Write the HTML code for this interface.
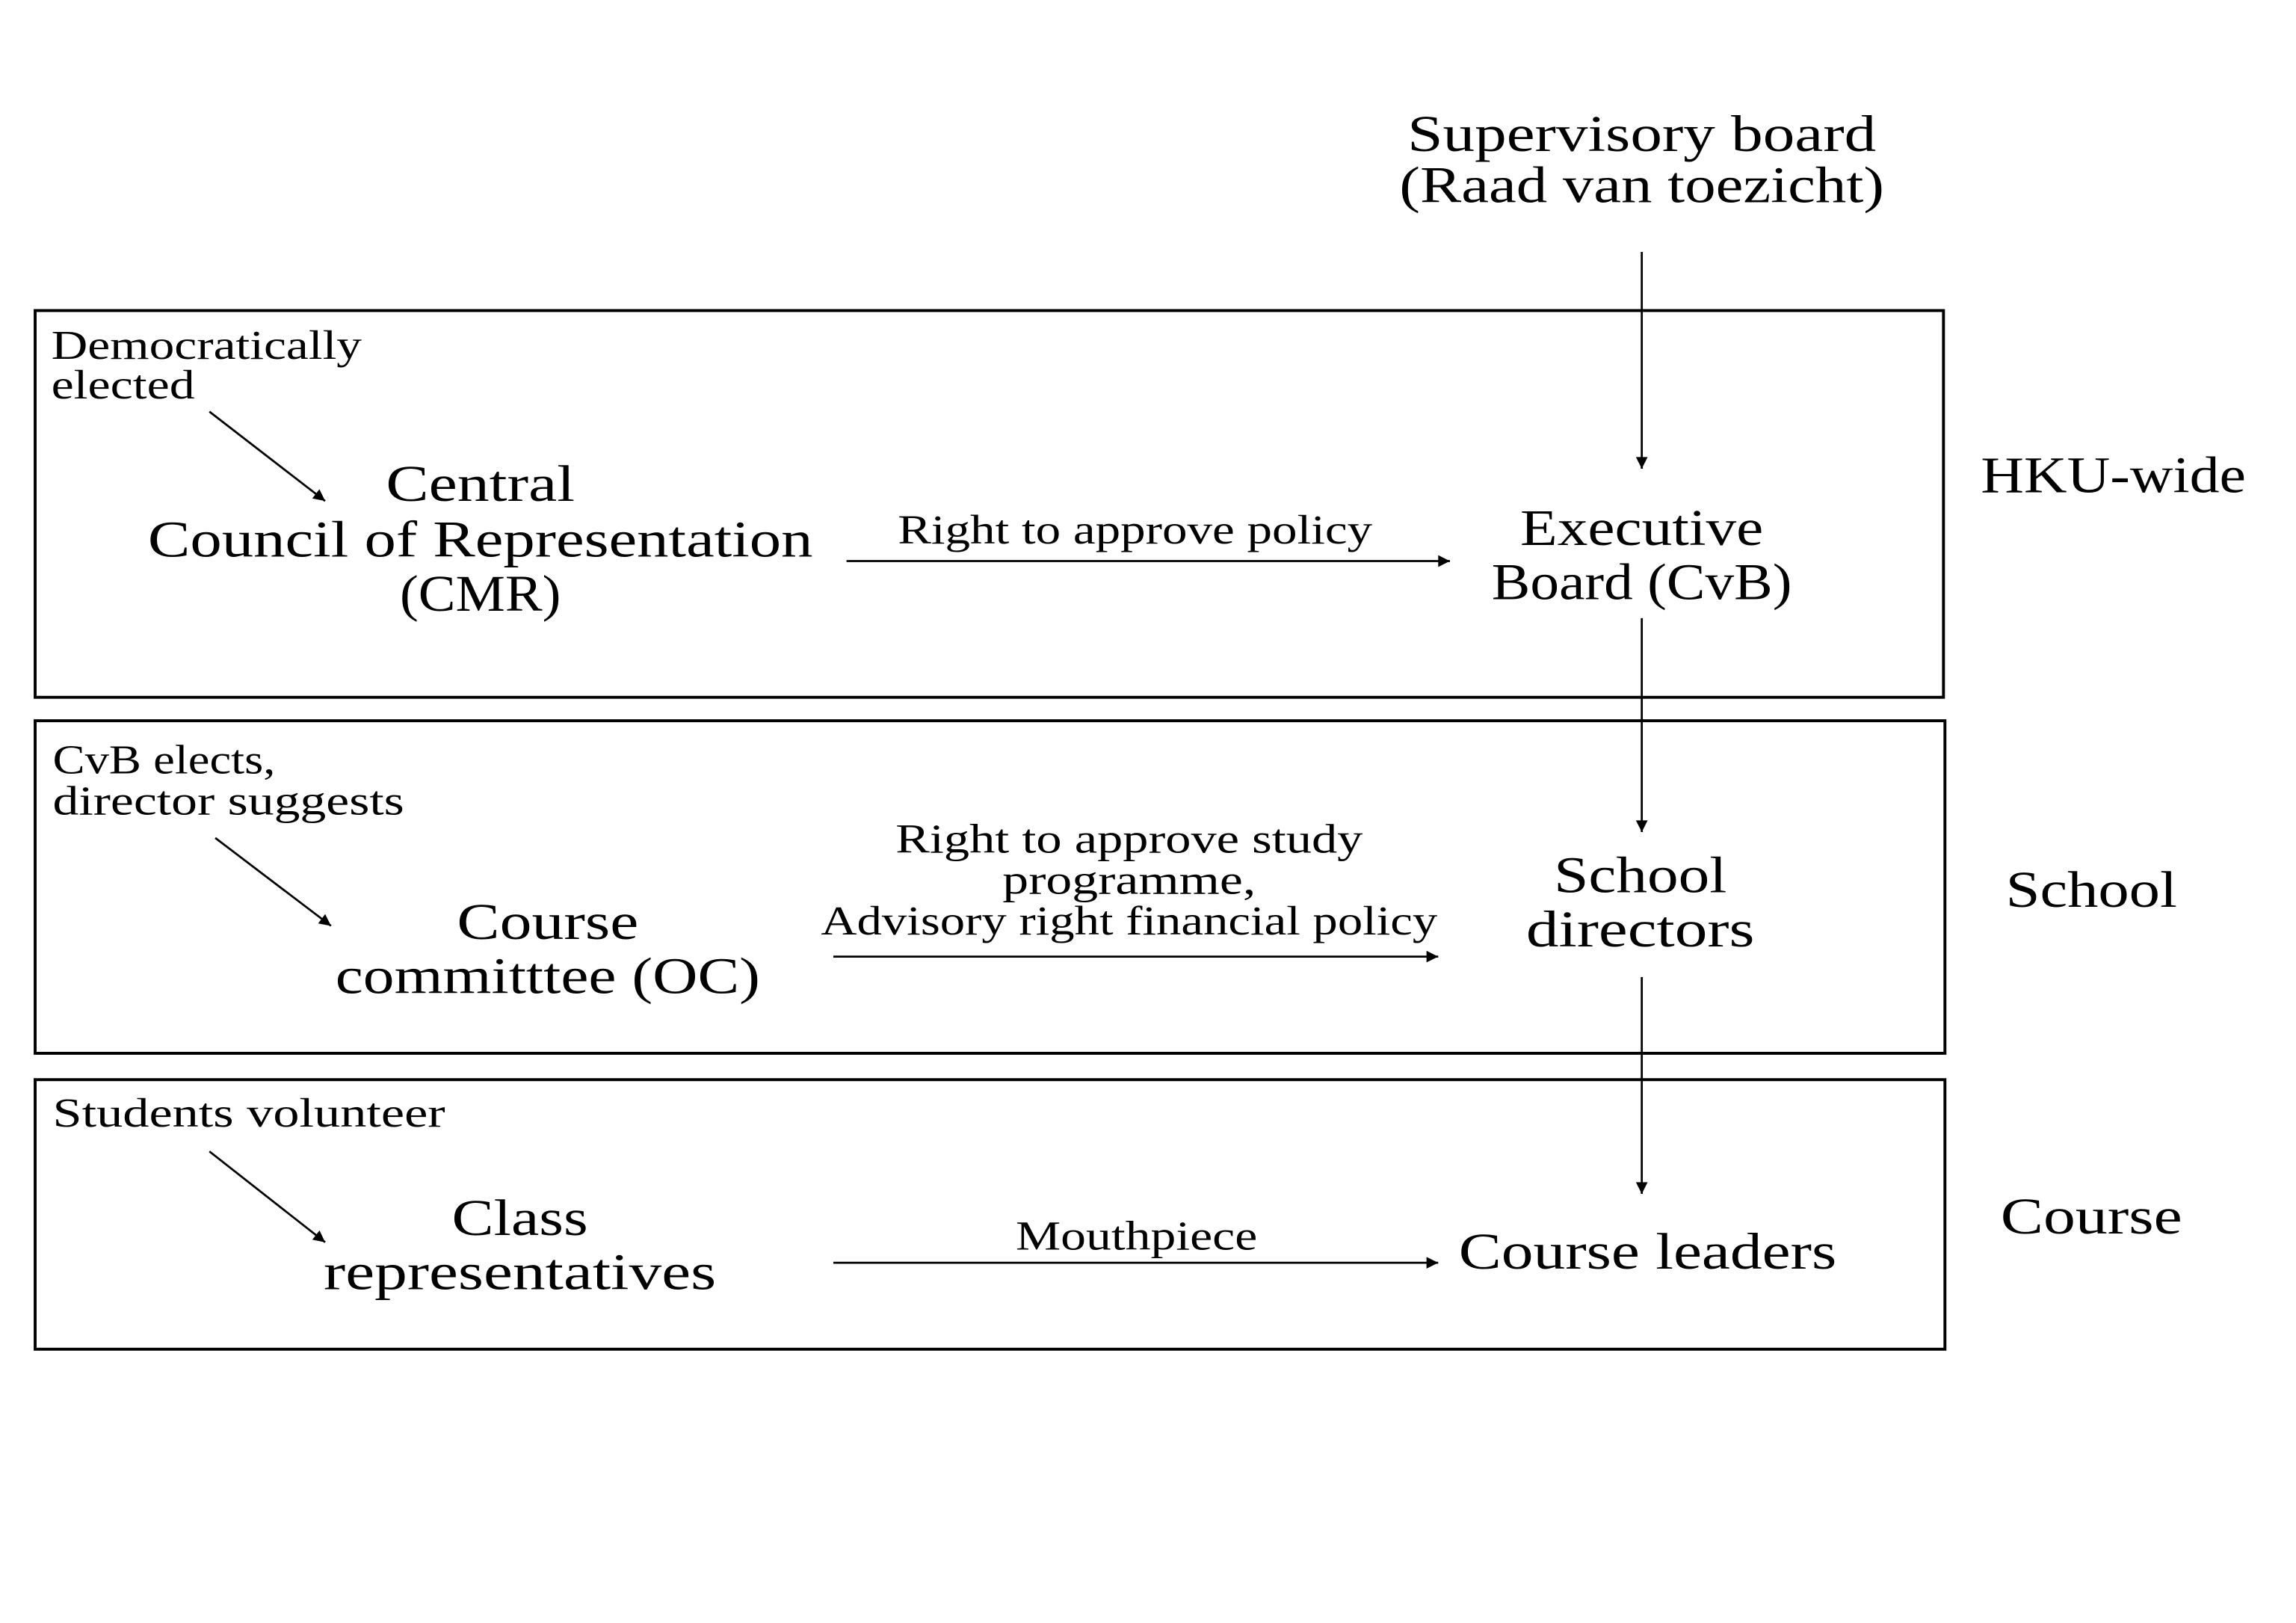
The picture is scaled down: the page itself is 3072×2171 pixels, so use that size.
<!DOCTYPE html>
<html><head><meta charset="utf-8"><style>html,body{margin:0;padding:0;background:#fff}svg{display:block}</style></head>
<body>
<svg width="3072" height="2171" viewBox="0 0 1567.7 1107.9" preserveAspectRatio="none" xmlns="http://www.w3.org/2000/svg" font-family="'Liberation Serif', serif" fill="#000">
<defs>
<marker id="a" viewBox="0 0 10 10" refX="10" refY="5" markerWidth="10" markerHeight="8" markerUnits="userSpaceOnUse" orient="auto"><path d="M0,0 L10,5 L0,10 z"/></marker>
</defs>
<rect width="1567.7" height="1107.9" fill="#fff"/>
<g fill="none" stroke="#000" stroke-width="2">
<rect x="24" y="212" width="1303" height="264"/>
<rect x="24" y="492" width="1304" height="227"/>
<rect x="24" y="737" width="1304" height="184"/>
</g>
<g stroke="#000" stroke-width="1.4" marker-end="url(#a)">
<line x1="1121" y1="172" x2="1121" y2="320"/>
<line x1="1121" y1="422" x2="1121" y2="568"/>
<line x1="1121" y1="667" x2="1121" y2="815"/>
<line x1="578" y1="383" x2="990" y2="383"/>
<line x1="569" y1="653" x2="982" y2="653"/>
<line x1="569" y1="862" x2="982" y2="862"/>
<line x1="143" y1="281" x2="222" y2="342"/>
<line x1="147" y1="572" x2="226" y2="632"/>
<line x1="143" y1="786" x2="222" y2="848"/>
</g>
<g font-size="35" text-anchor="middle">
<text x="1121" y="103" textLength="320" lengthAdjust="spacingAndGlyphs">Supervisory board</text>
<text x="1121" y="138" textLength="331" lengthAdjust="spacingAndGlyphs">(Raad van toezicht)</text>
<text x="328" y="342" textLength="129" lengthAdjust="spacingAndGlyphs">Central</text>
<text x="328" y="380" textLength="454" lengthAdjust="spacingAndGlyphs">Council of Representation</text>
<text x="328" y="417" textLength="110" lengthAdjust="spacingAndGlyphs">(CMR)</text>
<text x="1121" y="372" textLength="166" lengthAdjust="spacingAndGlyphs">Executive</text>
<text x="1121" y="409" textLength="205" lengthAdjust="spacingAndGlyphs">Board (CvB)</text>
<text x="374" y="641" textLength="124" lengthAdjust="spacingAndGlyphs">Course</text>
<text x="374" y="678" textLength="290" lengthAdjust="spacingAndGlyphs">committtee (OC)</text>
<text x="1120" y="609" textLength="118" lengthAdjust="spacingAndGlyphs">School</text>
<text x="1120" y="646" textLength="156" lengthAdjust="spacingAndGlyphs">directors</text>
<text x="355" y="843" textLength="93" lengthAdjust="spacingAndGlyphs">Class</text>
<text x="355" y="880" textLength="268" lengthAdjust="spacingAndGlyphs">representatives</text>
<text x="1125" y="866" textLength="258" lengthAdjust="spacingAndGlyphs">Course leaders</text>
<text x="1443" y="336" textLength="181" lengthAdjust="spacingAndGlyphs">HKU-wide</text>
<text x="1428" y="619" textLength="117" lengthAdjust="spacingAndGlyphs">School</text>
<text x="1428" y="842" textLength="124" lengthAdjust="spacingAndGlyphs">Course</text>
</g>
<g font-size="28" text-anchor="middle">
<text x="775" y="371" textLength="324" lengthAdjust="spacingAndGlyphs">Right to approve policy</text>
<text x="771" y="582" textLength="319" lengthAdjust="spacingAndGlyphs">Right to approve study</text>
<text x="771" y="610" textLength="173" lengthAdjust="spacingAndGlyphs">programme,</text>
<text x="771" y="638" textLength="421" lengthAdjust="spacingAndGlyphs">Advisory right financial policy</text>
<text x="776" y="853" textLength="165" lengthAdjust="spacingAndGlyphs">Mouthpiece</text>
</g>
<g font-size="28">
<text x="35" y="245" textLength="212" lengthAdjust="spacingAndGlyphs">Democratically</text>
<text x="35" y="272" textLength="98" lengthAdjust="spacingAndGlyphs">elected</text>
<text x="36" y="528" textLength="152" lengthAdjust="spacingAndGlyphs">CvB elects,</text>
<text x="36" y="556" textLength="240" lengthAdjust="spacingAndGlyphs">director suggests</text>
<text x="36" y="769" textLength="268" lengthAdjust="spacingAndGlyphs">Students volunteer</text>
</g>
</svg>
</body></html>
